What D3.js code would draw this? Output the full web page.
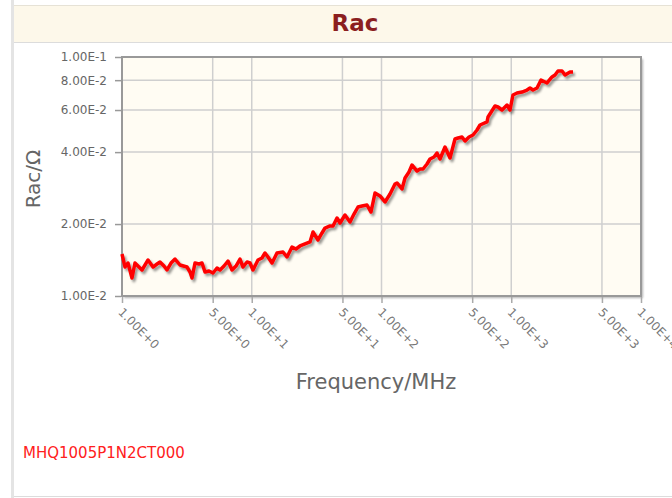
<!DOCTYPE html>
<html><head><meta charset="utf-8">
<script src="https://cdn.jsdelivr.net/npm/d3@7"></script>
<style>body{margin:0;background:#fff;}svg{display:block;font-family:"DejaVu Sans",sans-serif;}</style>
</head><body>
<svg id="c" width="672" height="498"></svg>
<script>
const freqMHz = [1.000,1.055,1.112,1.194,1.259,1.328,1.426,1.587,1.734,1.861,1.963,2.107,2.223,2.386,2.562,2.799,3.169,3.343,3.464,3.653,3.922,4.136,4.362,4.684,5.028,5.398,5.693,6.112,6.562,7.043,7.561,8.118,8.561,9.193,9.694,10.22,11.17,11.99,12.65,13.34,14.33,15.65,17.41,18.69,20.43,21.93,23.54,25.73,28.11,29.66,32.40,34.78,36.69,40.09,42.29,45.40,47.88,52.32,57.17,61.38,65.90,70.75,77.30,82.99,89.10,97.37,106.4,116.3,127.1,131.6,143.9,151.8,162.9,171.8,187.8,198.1,208.9,224.2,236.5,253.9,267.7,282.4,308.6,337.3,368.5,388.7,417.3,440.2,472.5,507.3,544.6,574.4,650.3,662.0,749.5,790.5,848.7,927.5,978.0,1031,1107,1210,1322,1395,1471,1579,1696,1886,2061,2174,2293,2462,2596,2837,2992];
const racOhm = [0.01499,0.01322,0.01374,0.01189,0.01374,0.01335,0.01285,0.01415,0.01322,0.01361,0.01388,0.01335,0.01285,0.01374,0.01428,0.01348,0.01322,0.01260,0.01189,0.01374,0.01361,0.01374,0.01260,0.01272,0.01248,0.01310,0.01285,0.01335,0.01401,0.01285,0.01335,0.01428,0.01322,0.01388,0.01374,0.01285,0.01415,0.01442,0.01513,0.01456,0.01374,0.01513,0.01528,0.01456,0.01604,0.01573,0.01619,0.01651,0.01683,0.01853,0.01716,0.01835,0.01925,0.01963,0.01963,0.02120,0.02020,0.02182,0.02040,0.02203,0.02357,0.02380,0.02403,0.02246,0.02697,0.02621,0.02474,0.02671,0.02942,0.02971,0.02804,0.03117,0.03303,0.03533,0.03334,0.03399,0.03399,0.03567,0.03743,0.03816,0.03966,0.03743,0.04202,0.03779,0.04538,0.04582,0.04627,0.04452,0.04627,0.04717,0.04950,0.05194,0.05347,0.05610,0.06237,0.06177,0.06001,0.06297,0.06001,0.06934,0.07069,0.07137,0.07276,0.07417,0.07276,0.07417,0.08013,0.07785,0.08248,0.08408,0.08738,0.08738,0.08408,0.08654,0.08654];
const xTicks = [1,5,10,50,100,500,1000,5000,10000];
const xTickLabels = ["1.00E+0","5.00E+0","1.00E+1","5.00E+1","1.00E+2","5.00E+2","1.00E+3","5.00E+3","1.00E+4"];
const yTicks = [0.01,0.02,0.04,0.06,0.08,0.1];
const yTickLabels = ["1.00E-2","2.00E-2","4.00E-2","6.00E-2","8.00E-2","1.00E-1"];
const seriesName = "MHQ1005P1N2CT000";

const svg = d3.select("#c");
const L=122,R=641,T=57,B=296;
const x = d3.scaleLog().domain([1,10000]).range([L,R]);
const y = d3.scaleLog().domain([0.01,0.1]).range([B,T]);

const defs = svg.append("defs");
const f = defs.append("filter").attr("id","sh").attr("x","-10%").attr("y","-10%").attr("width","130%").attr("height","130%");
f.append("feDropShadow").attr("dx",2).attr("dy",2.5).attr("stdDeviation",1.3).attr("flood-color","#000").attr("flood-opacity",0.4);
const f2 = defs.append("filter").attr("id","sh2").attr("x","-5%").attr("y","-5%").attr("width","110%").attr("height","110%");
f2.append("feDropShadow").attr("dx",2).attr("dy",2).attr("stdDeviation",1.2).attr("flood-color","#000").attr("flood-opacity",0.3);

// page frame
svg.append("rect").attr("x",11).attr("y",0).attr("width",3).attr("height",498).attr("fill","#e4e4e4");
svg.append("rect").attr("x",14).attr("y",5).attr("width",660).attr("height",37).attr("fill","#fdf8ea");
svg.append("line").attr("x1",14).attr("x2",672).attr("y1",5.5).attr("y2",5.5).attr("stroke","#e6e2d6");
svg.append("line").attr("x1",14).attr("x2",672).attr("y1",42.5).attr("y2",42.5).attr("stroke","#dcdcdc");
svg.append("line").attr("x1",14).attr("x2",672).attr("y1",496.5).attr("y2",496.5).attr("stroke","#dcdcdc");
svg.append("text").attr("x",355).attr("y",31).attr("text-anchor","middle").attr("font-size",23).attr("font-weight","bold").attr("fill","#8b1f1f").text("Rac");

// plot area
svg.append("rect").attr("x",L).attr("y",T).attr("width",R-L).attr("height",B-T).attr("fill","#fffcf3").attr("filter","url(#sh2)");

// grid
svg.append("g").selectAll("line").data(xTicks.filter(d=>d>1&&d<10000)).join("line")
  .attr("x1",d=>x(d)).attr("x2",d=>x(d)).attr("y1",T).attr("y2",B).attr("stroke","#cfcfcf").attr("stroke-width",1.5);
svg.append("g").selectAll("line").data(yTicks.filter(d=>d>0.01&&d<0.1)).join("line")
  .attr("y1",d=>y(d)).attr("y2",d=>y(d)).attr("x1",L).attr("x2",R).attr("stroke","#cfcfcf").attr("stroke-width",1.5);

// axes
const yAxis = d3.axisLeft(y).tickValues(yTicks).tickFormat((d,i)=>yTickLabels[i]).tickSize(6).tickPadding(8);
const gy = svg.append("g").attr("transform",`translate(${L-1},0)`).call(yAxis);
gy.select(".domain").remove();
gy.selectAll(".tick line").attr("stroke","#999").attr("stroke-width",1.5);
gy.selectAll(".tick text").attr("font-size",12).attr("fill","#666").attr("font-family","DejaVu Sans");

const xAxis = d3.axisBottom(x).tickValues(xTicks).tickFormat((d,i)=>xTickLabels[i]).tickSize(6);
const gx = svg.append("g").attr("transform",`translate(0,${B+1})`).call(xAxis);
gx.select(".domain").remove();
gx.selectAll(".tick line").attr("stroke","#aaa").attr("stroke-width",1.5);
gx.selectAll(".tick text").attr("font-size",12).attr("fill","#777").attr("font-family","DejaVu Sans")
  .attr("text-anchor","start").attr("dy",0).attr("y",0)
  .attr("transform","translate(-5,16) rotate(45)");

// plot border
svg.append("rect").attr("x",L).attr("y",T).attr("width",R-L).attr("height",B-T).attr("fill","none").attr("stroke","#999").attr("stroke-width",2);

// line
const line = d3.line().x((d,i)=>x(freqMHz[i])).y(d=>y(d));
svg.append("path").datum(racOhm).attr("d",line).attr("fill","none").attr("stroke","#ff0000").attr("stroke-width",3.5).attr("stroke-linejoin","round").attr("filter","url(#sh)");

// axis titles
svg.append("text").attr("transform","translate(40,179) rotate(-90)").attr("text-anchor","middle").attr("font-size",20).attr("fill","#666").text("Rac/Ω");
svg.append("text").attr("x",376).attr("y",389).attr("text-anchor","middle").attr("font-size",21).attr("fill","#666").text("Frequency/MHz");

// legend
svg.append("text").attr("x",23).attr("y",458).attr("font-size",15).attr("fill","#ff2020").text(seriesName);
</script>
</body></html>
